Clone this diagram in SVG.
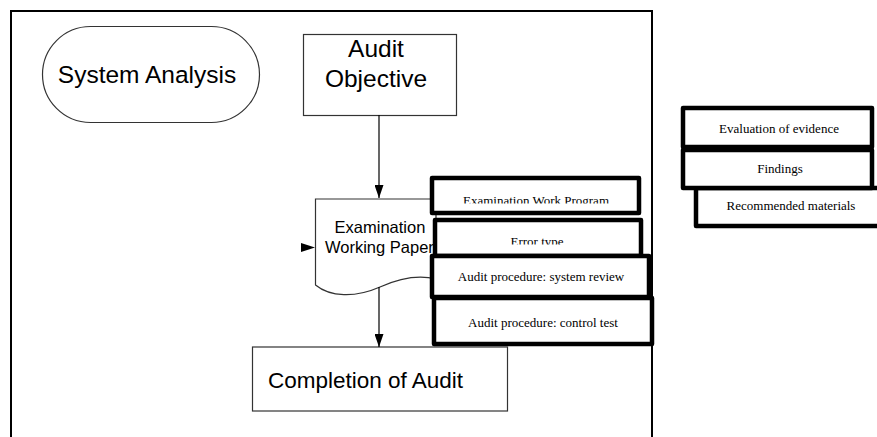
<svg xmlns="http://www.w3.org/2000/svg" width="877" height="437" viewBox="0 0 877 437">
<style>
.thin{fill:#fff;stroke:#333;stroke-width:1.2}
.thick{fill:#fff;stroke:#000;stroke-width:4.5;stroke-linejoin:round}
.sans{font-family:"Liberation Sans",Arial,sans-serif;fill:#000}
.serif{font-family:"Liberation Serif","Times New Roman",serif;font-size:13px;fill:#000;text-anchor:middle}
.conn{stroke:#000;stroke-width:1.2;fill:none}
</style>
<defs>
<marker id="ah" viewBox="0 0 13 9" refX="13" refY="4.5" markerWidth="13" markerHeight="9" markerUnits="userSpaceOnUse" orient="auto">
<path d="M0,0 L13,4.5 L0,9 Z" fill="#000"/>
</marker>
<clipPath id="c1"><rect x="430" y="180" width="210" height="23.5"/></clipPath>
<clipPath id="c2"><rect x="430" y="222" width="210" height="22.5"/></clipPath>
</defs>
<rect width="877" height="437" fill="#fff"/>
<path d="M11,437 V11 H652 V437" fill="none" stroke="#000" stroke-width="2"/>

<g id="system-analysis">
<rect class="thin" x="42.5" y="26.5" width="217" height="96" rx="48" ry="48"/>
<text class="sans" x="147" y="83" font-size="24.5" text-anchor="middle">System Analysis</text>
</g>

<g id="audit-objective">
<rect class="thin" x="303.5" y="34.5" width="153" height="81"/>
<text class="sans" x="376" y="57" font-size="24.5" text-anchor="middle">Audit</text>
<text class="sans" x="376" y="87" font-size="24.5" text-anchor="middle">Objective</text>
</g>

<g id="working-paper">
<path class="thin" d="M315.5,199 H436 V279 C420,275 400,278 380,287 C355,298 330,297 315.5,285 Z"/>
<text class="sans" x="380" y="233" font-size="16.5" text-anchor="middle">Examination</text>
<text class="sans" x="325" y="253" font-size="16.5">Working Paper</text>
</g>

<g id="completion">
<rect class="thin" x="252.5" y="347" width="255" height="64"/>
<text class="sans" x="268" y="388" font-size="22.5">Completion of Audit</text>
</g>

<g id="connectors">
<line class="conn" x1="379" y1="115" x2="379" y2="198" marker-end="url(#ah)"/>
<line class="conn" x1="379" y1="287" x2="379" y2="347" marker-end="url(#ah)"/>
<path d="M301,243 L315,247.5 L301,252 Z" fill="#000"/>
</g>

<g id="exam-work-program">
<rect class="thick" x="432" y="178" width="207" height="35"/>
<text class="serif" x="536" y="204.5" clip-path="url(#c1)">Examination Work Program</text>
</g>
<g id="error-type">
<rect class="thick" x="435" y="220" width="206" height="36"/>
<text class="serif" x="537" y="245.5" clip-path="url(#c2)">Error type</text>
</g>
<g id="system-review">
<rect class="thick" x="432" y="256" width="217" height="41"/>
<text class="serif" x="541" y="281">Audit procedure: system review</text>
</g>
<g id="control-test">
<rect class="thick" x="434" y="298" width="218" height="46"/>
<text class="serif" x="543" y="327">Audit procedure: control test</text>
</g>

<g id="recommended">
<rect class="thick" x="696" y="188" width="190" height="38"/>
<text class="serif" x="791" y="210">Recommended materials</text>
</g>
<g id="evaluation">
<rect class="thick" x="683" y="108" width="189" height="39"/>
<text class="serif" x="779" y="133">Evaluation of evidence</text>
</g>
<g id="findings">
<rect class="thick" x="683" y="150" width="189" height="38"/>
<text class="serif" x="780" y="173">Findings</text>
</g>
</svg>
